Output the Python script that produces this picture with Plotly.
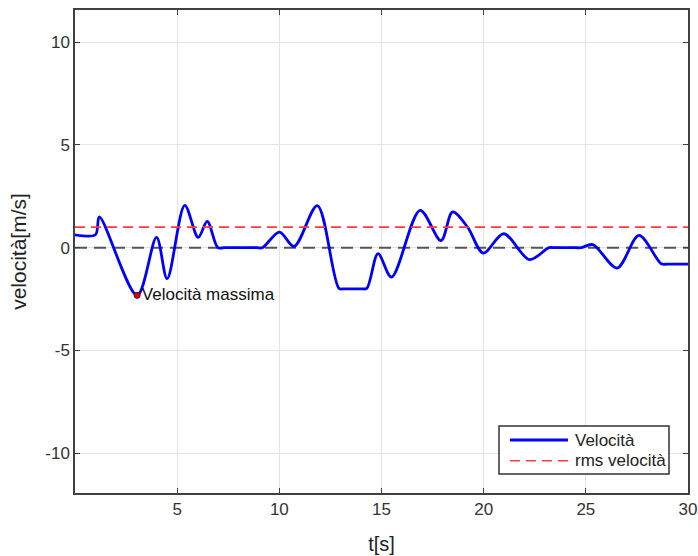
import plotly.graph_objects as go

# velocity profile key points (time in s, velocity in m/s)
t = [0.0, 1.0, 1.19, 3.04, 3.99, 4.51, 5.37, 6.03, 6.47, 6.99, 7.3, 8.9, 9.17,
     10.01, 10.72, 11.86, 12.92, 13.2, 14.0, 14.28, 14.83, 15.49, 16.89, 17.91,
     18.48, 19.22, 19.98, 20.98, 22.24, 23.2, 23.5, 24.5, 24.77, 25.34, 26.53,
     27.6, 28.69, 29.0, 30.0]
v = [0.63, 0.63, 1.5, -2.32, 0.5, -1.51, 2.06, 0.5, 1.28, 0.0, 0.0, 0.0, 0.0,
     0.76, 0.06, 2.05, -1.98, -2.0, -2.0, -1.98, -0.29, -1.43, 1.82, 0.34,
     1.74, 0.99, -0.26, 0.68, -0.58, 0.0, 0.0, 0.0, 0.0, 0.15, -0.99,
     0.6, -0.78, -0.8, -0.8]

v_rms = 1.0
t_max, v_max = 3.04, -2.32

x_ticks = [5, 10, 15, 20, 25, 30]
y_ticks = [-10, -5, 0, 5, 10]
y_tick_text = ["-10", "-5", "0", "5", "10"]

legend_names = ["Velocità", "rms velocità"]

font = "Liberation Sans, Arial, sans-serif"
axis_col = "#404040"
blue = "#0000ff"
red = "#ff3a3a"

fig = go.Figure()

# zero reference line
fig.add_trace(go.Scatter(x=[0, 30], y=[0, 0], mode="lines",
                         line=dict(color="#555555", width=2, dash="12px,7px"),
                         showlegend=False, hoverinfo="skip"))

fig.add_trace(go.Scatter(x=t, y=v, mode="lines", name=legend_names[0],
                         line=dict(color=blue, width=2.8, shape="spline", smoothing=0.9),
                         showlegend=False))

fig.add_trace(go.Scatter(x=[0, 30], y=[v_rms, v_rms], mode="lines", name=legend_names[1],
                         line=dict(color=red, width=1.6, dash="10px,6px"),
                         showlegend=False))

fig.add_trace(go.Scatter(x=[t_max], y=[v_max], mode="markers+text",
                         marker=dict(color="#e00000", size=6, line=dict(color="#600000", width=1)),
                         text=["Velocità massima"], textposition="middle right",
                         textfont=dict(family=font, size=17, color="#111111"),
                         showlegend=False, hoverinfo="skip"))

axis_common = dict(showline=True, linecolor=axis_col, linewidth=1.5, mirror="allticks",
                   ticks="inside", ticklen=5, tickwidth=1.2, tickcolor=axis_col,
                   showgrid=True, gridcolor="#e3e3e3", gridwidth=1, zeroline=False,
                   automargin=False,
                   tickfont=dict(family=font, size=17, color="#333333"))

fig.update_xaxes(range=[0, 30], tickvals=x_ticks,
                 title=dict(text="t[s]", font=dict(family=font, size=20, color="#222222"), standoff=19),
                 **axis_common)
fig.update_yaxes(range=[-11.94, 11.57], tickvals=y_ticks, ticktext=y_tick_text,
                 title=dict(text="velocità[m/s]", font=dict(family=font, size=21, color="#222222"), standoff=13),
                 **axis_common)

# legend box drawn in paper coordinates
lx0, lx1, ly0, ly1 = 0.6917, 0.969, 0.0393, 0.1387
shapes = [dict(type="rect", xref="paper", yref="paper", x0=lx0, x1=lx1, y0=ly0, y1=ly1,
               line=dict(color="#333333", width=1.5), fillcolor="white", layer="above")]
rows = [0.1097, 0.0669]
styles = [dict(color=blue, width=2.8), dict(color=red, width=1.6, dash="10px,6px")]
annotations = []
for name, yy, st in zip(legend_names, rows, styles):
    shapes.append(dict(type="line", xref="paper", yref="paper", x0=0.7096, x1=0.8042,
                       y0=yy, y1=yy, line=st, layer="above"))
    annotations.append(dict(xref="paper", yref="paper", x=0.8124, y=yy, text=name,
                            showarrow=False, xanchor="left", yanchor="middle",
                            font=dict(family=font, size=17, color="#222222")))

fig.update_layout(
    width=698, height=556,
    margin=dict(l=75, r=10, t=10, b=63),
    paper_bgcolor="white", plot_bgcolor="white",
    shapes=shapes, annotations=annotations,
    showlegend=False,
)

fig.write_html("out.html")
